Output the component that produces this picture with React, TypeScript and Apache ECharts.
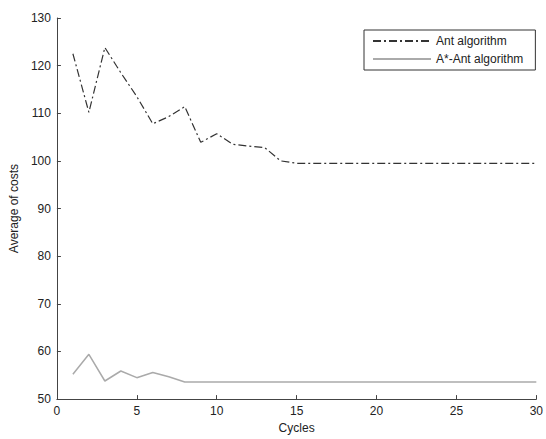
import React, { useEffect, useRef } from "react";
import * as echarts from "echarts";

const cycles = [1,2,3,4,5,6,7,8,9,10,11,12,13,14,15,16,17,18,19,20,21,22,23,24,25,26,27,28,29,30];
const antCosts = [122.5,110.2,123.8,118.5,113.5,107.8,109.3,111.4,103.9,105.7,103.5,103.1,102.8,100.0,99.5,99.5,99.5,99.5,99.5,99.5,99.5,99.5,99.5,99.5,99.5,99.5,99.5,99.5,99.5,99.5];
const aStarAntCosts = [55.2,59.4,53.8,55.9,54.5,55.6,54.7,53.6,53.6,53.6,53.6,53.6,53.6,53.6,53.6,53.6,53.6,53.6,53.6,53.6,53.6,53.6,53.6,53.6,53.6,53.6,53.6,53.6,53.6,53.6];
const seriesNames = ["Ant algorithm", "A*-Ant algorithm"];

export default function App() {
  const ref = useRef<HTMLDivElement>(null);
  useEffect(() => {
    if (!ref.current) return;
    const chart = echarts.init(ref.current, null, { renderer: "svg" });
    const font = "Liberation Sans, Arial, sans-serif";
    const axisCommon = {
      axisLine: { show: true, lineStyle: { color: "#444", width: 1 } },
      axisTick: { show: true, inside: true, length: 4, lineStyle: { color: "#444" } },
      axisLabel: { color: "#222", fontSize: 12, fontFamily: font },
      splitLine: { show: false },
      nameTextStyle: { color: "#222", fontSize: 12, fontFamily: font },
    };
    chart.setOption({
      animation: false,
      backgroundColor: "#fff",
      grid: { left: 56, right: 6, top: 18, bottom: 39, containLabel: false },
      legend: {
        orient: "vertical",
        left: 364,
        top: 30,
        itemWidth: 58,
        itemHeight: 14,
        itemGap: 6,
        padding: [5, 12, 5, 8],
        borderColor: "#333",
        borderWidth: 1,
        borderRadius: 0,
        backgroundColor: "#fff",
        itemStyle: { opacity: 0 },
        textStyle: { color: "#222", fontSize: 12, fontFamily: font },
        data: seriesNames,
      },
      xAxis: {
        type: "value",
        min: 0,
        max: 30,
        interval: 5,
        name: "Cycles",
        nameLocation: "middle",
        nameGap: 22,
        ...axisCommon,
        axisLabel: { ...axisCommon.axisLabel, margin: 6 },
      },
      yAxis: {
        type: "value",
        min: 50,
        max: 130,
        interval: 10,
        name: "Average of costs",
        nameLocation: "middle",
        nameGap: 36,
        ...axisCommon,
        axisLabel: { ...axisCommon.axisLabel, margin: 6 },
      },
      series: [
        {
          name: seriesNames[0],
          type: "line",
          symbol: "none",
          data: cycles.map((c, i) => [c, antCosts[i]]),
          lineStyle: { color: "#333", width: 1.2, type: [8, 3, 2, 3] },
          itemStyle: { color: "#333" },
        },
        {
          name: seriesNames[1],
          type: "line",
          symbol: "none",
          data: cycles.map((c, i) => [c, aStarAntCosts[i]]),
          lineStyle: { color: "#aaa", width: 1.5, type: "solid" },
          itemStyle: { color: "#aaa" },
        },
      ],
    });
    return () => chart.dispose();
  }, []);
  return <div ref={ref} style={{ width: 546, height: 439, position: "absolute", left: 0, top: 0 }} />;
}
